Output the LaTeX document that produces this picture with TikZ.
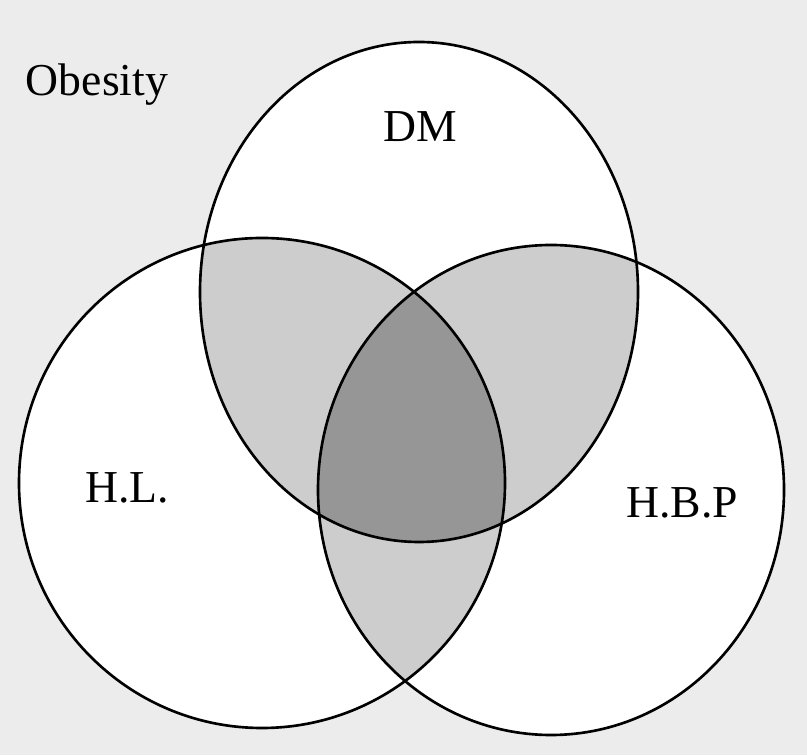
\documentclass[tikz,border=0pt]{standalone}
\usepackage{fontspec}
\setmainfont{Liberation Serif}
\usepackage{tikz}
\usepackage{xcolor}
\usetikzlibrary{
    positioning,
    backgrounds
}
\definecolor{bgGray}{RGB}{236,236,236}
\definecolor{pairGray}{RGB}{205,205,205}
\definecolor{coreGray}{RGB}{150,150,150}
\tikzset{
  rim/.style    = {draw=black, line width=1.5pt},
  setlabel/.style = {font=\fontsize{26}{30}\selectfont, inner sep=0pt}
}
\newcommand{\dmset}{(8.38,9.26) ellipse [x radius=4.38, y radius=5.0]}
\newcommand{\hlset}{(5.24,5.44) ellipse [x radius=4.86, y radius=4.9]}
\newcommand{\hbpset}{(11.02,5.30) ellipse [x radius=4.66, y radius=4.9]}

\begin{document}
\begin{tikzpicture}
        \useasboundingbox (0,0) rectangle (16.14,15.1);
        \fill[bgGray] (0,0) rectangle (16.14,15.1);
        % sets
        \fill[white] \dmset;
        \fill[white] \hlset;
        \fill[white] \hbpset;
        % pairwise overlaps
        \begin{scope}
          \clip \dmset;
          \fill[pairGray] \hlset;
          \fill[pairGray] \hbpset;
        \end{scope}
        \begin{scope}
          \clip \hlset;
          \fill[pairGray] \hbpset;
        \end{scope}
        % all three
        \begin{scope}
          \clip \dmset;
          \clip \hlset;
          \fill[coreGray] \hbpset;
        \end{scope}
        \draw[rim] \dmset;
        \draw[rim] \hlset;
        \draw[rim] \hbpset;
        \node[setlabel] (obesity) at (1.94,13.4) {Obesity};
        \node[setlabel] (dm) at (8.4,12.56) {DM};
        \node[setlabel] (hl) at (2.54,5.34) {H.L.};
        \node[setlabel] (hbp) at (13.64,5.04) {H.B.P};
      \end{tikzpicture}
\end{document}
